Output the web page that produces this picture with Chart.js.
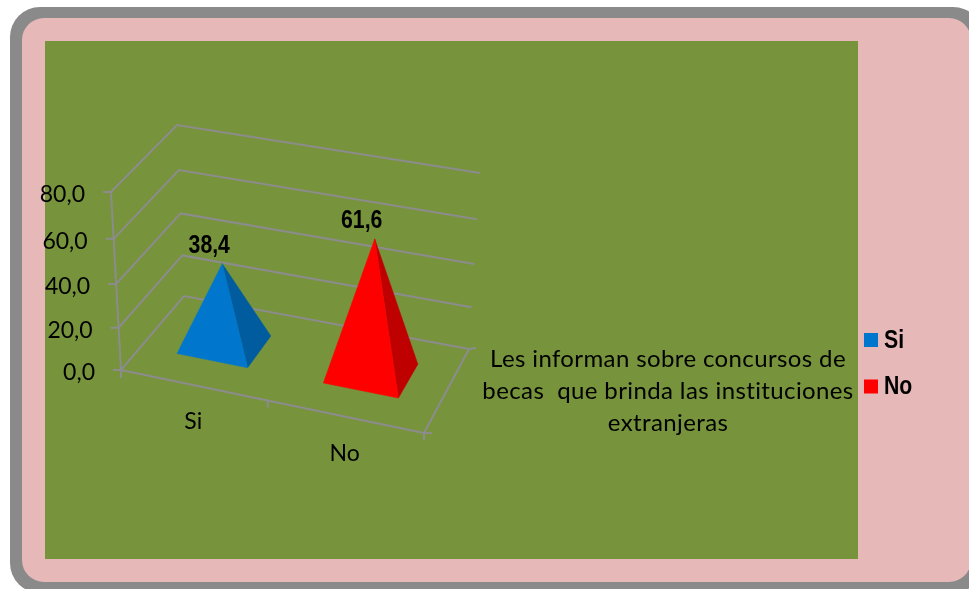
<!DOCTYPE html>
<html lang="es">
<head>
<meta charset="utf-8">
<style>html,body{margin:0;padding:0;background:#fff}canvas{display:block}</style>
<script src="https://cdn.jsdelivr.net/npm/chart.js@4"></script>
</head>
<body>
<canvas id="c" width="969" height="589"></canvas>
<script>
const categories = ['Si', 'No'];
const values = [38.4, 61.6];
const valueLabels = ['38,4', '61,6'];
const yTickValues = [0, 20, 40, 60, 80];
const yTickLabels = ['0,0', '20,0', '40,0', '60,0', '80,0'];
const axisTitleLines = ['Les informan sobre concursos de', 'becas  que brinda las instituciones', 'extranjeras'];
const frontColors = ['#0077CC', '#FF0000'];
const sideColors = ['#005C9E', '#BF0000'];

const GRID = '#8C8C8C';
const BODY_FONT = 'Lato, sans-serif';
const BOLD_FONT = '"Liberation Sans", sans-serif';
const BOLD_SQUEEZE = 0.85;
const DEPTH_FRONT = 0.32, DEPTH_BACK = 0.73;
const K_U = 0.06, K_V = 0.066;

// Corners of the 3D box on screen, indexed [u][v][w]
const box = [
  [[[121, 370], [184, 296]], [[111, 192], [177, 125]]],
  [[[424, 433], [469, 349]], [[433, 250], [480, 173]]]
];
const persp = (t, k) => t * (1 - k) / (1 - k * t);
const lerp = (a, b, t) => [a[0] + (b[0] - a[0]) * t, a[1] + (b[1] - a[1]) * t];
function project(u, v, w) {
  const U = persp(u, K_U), V = persp(v, K_V);
  const at = i => lerp(lerp(box[i][0][0], box[i][0][1], w), lerp(box[i][1][0], box[i][1][1], w), V);
  return lerp(at(0), at(1), U);
}
function line(ctx, pts) {
  ctx.beginPath();
  pts.forEach((p, i) => i ? ctx.lineTo(p[0], p[1]) : ctx.moveTo(p[0], p[1]));
  ctx.stroke();
}
function poly(ctx, pts, color) {
  ctx.fillStyle = color;
  ctx.strokeStyle = color;
  ctx.lineWidth = 0.5;
  ctx.beginPath();
  pts.forEach((p, i) => i ? ctx.lineTo(p[0], p[1]) : ctx.moveTo(p[0], p[1]));
  ctx.closePath();
  ctx.fill();
  ctx.stroke();
}
function roundPanel(ctx, x0, y0, x1, y1, r, color) {
  ctx.fillStyle = color;
  ctx.beginPath();
  ctx.roundRect(x0, y0, x1 - x0, y1 - y0, r);
  ctx.fill();
}
function boldText(ctx, t, px, py) {
  ctx.font = 'bold 25px ' + BOLD_FONT;
  ctx.fillText(t, px, py, ctx.measureText(t).width * BOLD_SQUEEZE);
}

const scene3d = {
  id: 'scene3d',
  beforeDraw(chart) {
    const { ctx, chartArea: a } = chart;
    ctx.save();
    roundPanel(ctx, 10, 7, 983, 593, 30, '#8A8A8A');
    roundPanel(ctx, 22, 18, 971, 582, 22, '#E6B8B7');
    ctx.fillStyle = '#77933C';
    ctx.fillRect(a.left, a.top, a.right - a.left, a.bottom - a.top);
    ctx.restore();
  },
  beforeDatasetsDraw(chart) {
    const { ctx, chartArea: a, scales: { y } } = chart;
    const un = px => (px - a.left) / (a.right - a.left);
    const vn = py => (a.bottom - py) / (a.bottom - a.top);
    ctx.save();

    // Gridlines and value axis
    ctx.strokeStyle = GRID;
    ctx.lineWidth = 2;
    ctx.lineJoin = 'miter';
    yTickValues.forEach((val, i) => {
      const v = vn(y.getPixelForValue(val));
      const fl = project(0, v, 0);
      line(ctx, [[fl[0] - 8, fl[1]], fl, project(0, v, 1), project(1, v, 1)]);
      ctx.fillStyle = '#000';
      ctx.font = '23px ' + BODY_FONT;
      ctx.textAlign = 'right';
      ctx.textBaseline = 'middle';
      ctx.fillText(yTickLabels[i], fl[0] - 26, fl[1] + 3);
    });
    line(ctx, [project(0, 1, 0), project(0, 0, 0)]);

    // Floor front and right edges with tick marks
    const p00 = project(0, 0, 0), p10 = project(1, 0, 0), p11 = project(1, 0, 1);
    line(ctx, [p00, p10, p11, [p11[0] + 7, p11[1] - 1]]);
    line(ctx, [p00, [p00[0], p00[1] + 8]]);
    line(ctx, [p10, [p10[0], p10[1] + 7]]);
    line(ctx, [p10, [p10[0] + 8, p10[1]]]);
    const mid = project(0.5, 0, 0);
    line(ctx, [mid, [mid[0], mid[1] + 7]]);

    // Pyramids, from the bar elements laid out by the scales
    const bars = chart.getDatasetMeta(0).data;
    const wc = (DEPTH_FRONT + DEPTH_BACK) / 2;
    bars.forEach((bar, i) => {
      const uL = un(bar.x - bar.width / 2), uR = un(bar.x + bar.width / 2), uC = un(bar.x);
      const apex = project(uC, vn(bar.y), wc);
      const fl = project(uL, 0, DEPTH_FRONT), fr = project(uR, 0, DEPTH_FRONT), br = project(uR, 0, DEPTH_BACK);
      poly(ctx, [fr, br, apex], sideColors[i]);
      poly(ctx, [fl, fr, apex], frontColors[i]);
      ctx.fillStyle = '#000';
      ctx.textAlign = 'center';
      ctx.textBaseline = 'middle';
      boldText(ctx, valueLabels[i], apex[0] - 13, apex[1] - 18);
      const base = project(uC, 0, 0);
      ctx.font = '23px ' + BODY_FONT;
      ctx.fillText(categories[i], base[0], base[1] + 37);
    });

    // Axis title
    ctx.fillStyle = '#000';
    ctx.font = '24px ' + BODY_FONT;
    ctx.letterSpacing = '0.38px';
    ctx.textAlign = 'center';
    ctx.textBaseline = 'middle';
    axisTitleLines.forEach((t, i) => ctx.fillText(t, 668, 359 + 32 * i));
    ctx.letterSpacing = '0px';

    // Legend
    categories.forEach((t, i) => {
      const ly = 340 + 46.5 * i;
      ctx.fillStyle = frontColors[i];
      ctx.fillRect(864, ly - 7, 14, 14);
      ctx.fillStyle = '#000';
      ctx.textAlign = 'left';
      ctx.textBaseline = 'middle';
      boldText(ctx, t, 884, ly + 1);
    });
    ctx.restore();
    return false;
  }
};

new Chart(document.getElementById('c'), {
  type: 'bar',
  data: {
    labels: categories,
    datasets: [{ label: 'Les informan', data: values, backgroundColor: frontColors, categoryPercentage: 1, barPercentage: 0.49 }]
  },
  options: {
    responsive: false,
    animation: false,
    layout: { padding: { left: 45, right: 111, top: 41, bottom: 30 } },
    plugins: { legend: { display: false }, tooltip: { enabled: false }, title: { display: false } },
    scales: {
      x: { display: false },
      y: { display: false, min: 0, max: 80, ticks: { stepSize: 20 } }
    }
  },
  plugins: [scene3d]
});
</script>
</body>
</html>
